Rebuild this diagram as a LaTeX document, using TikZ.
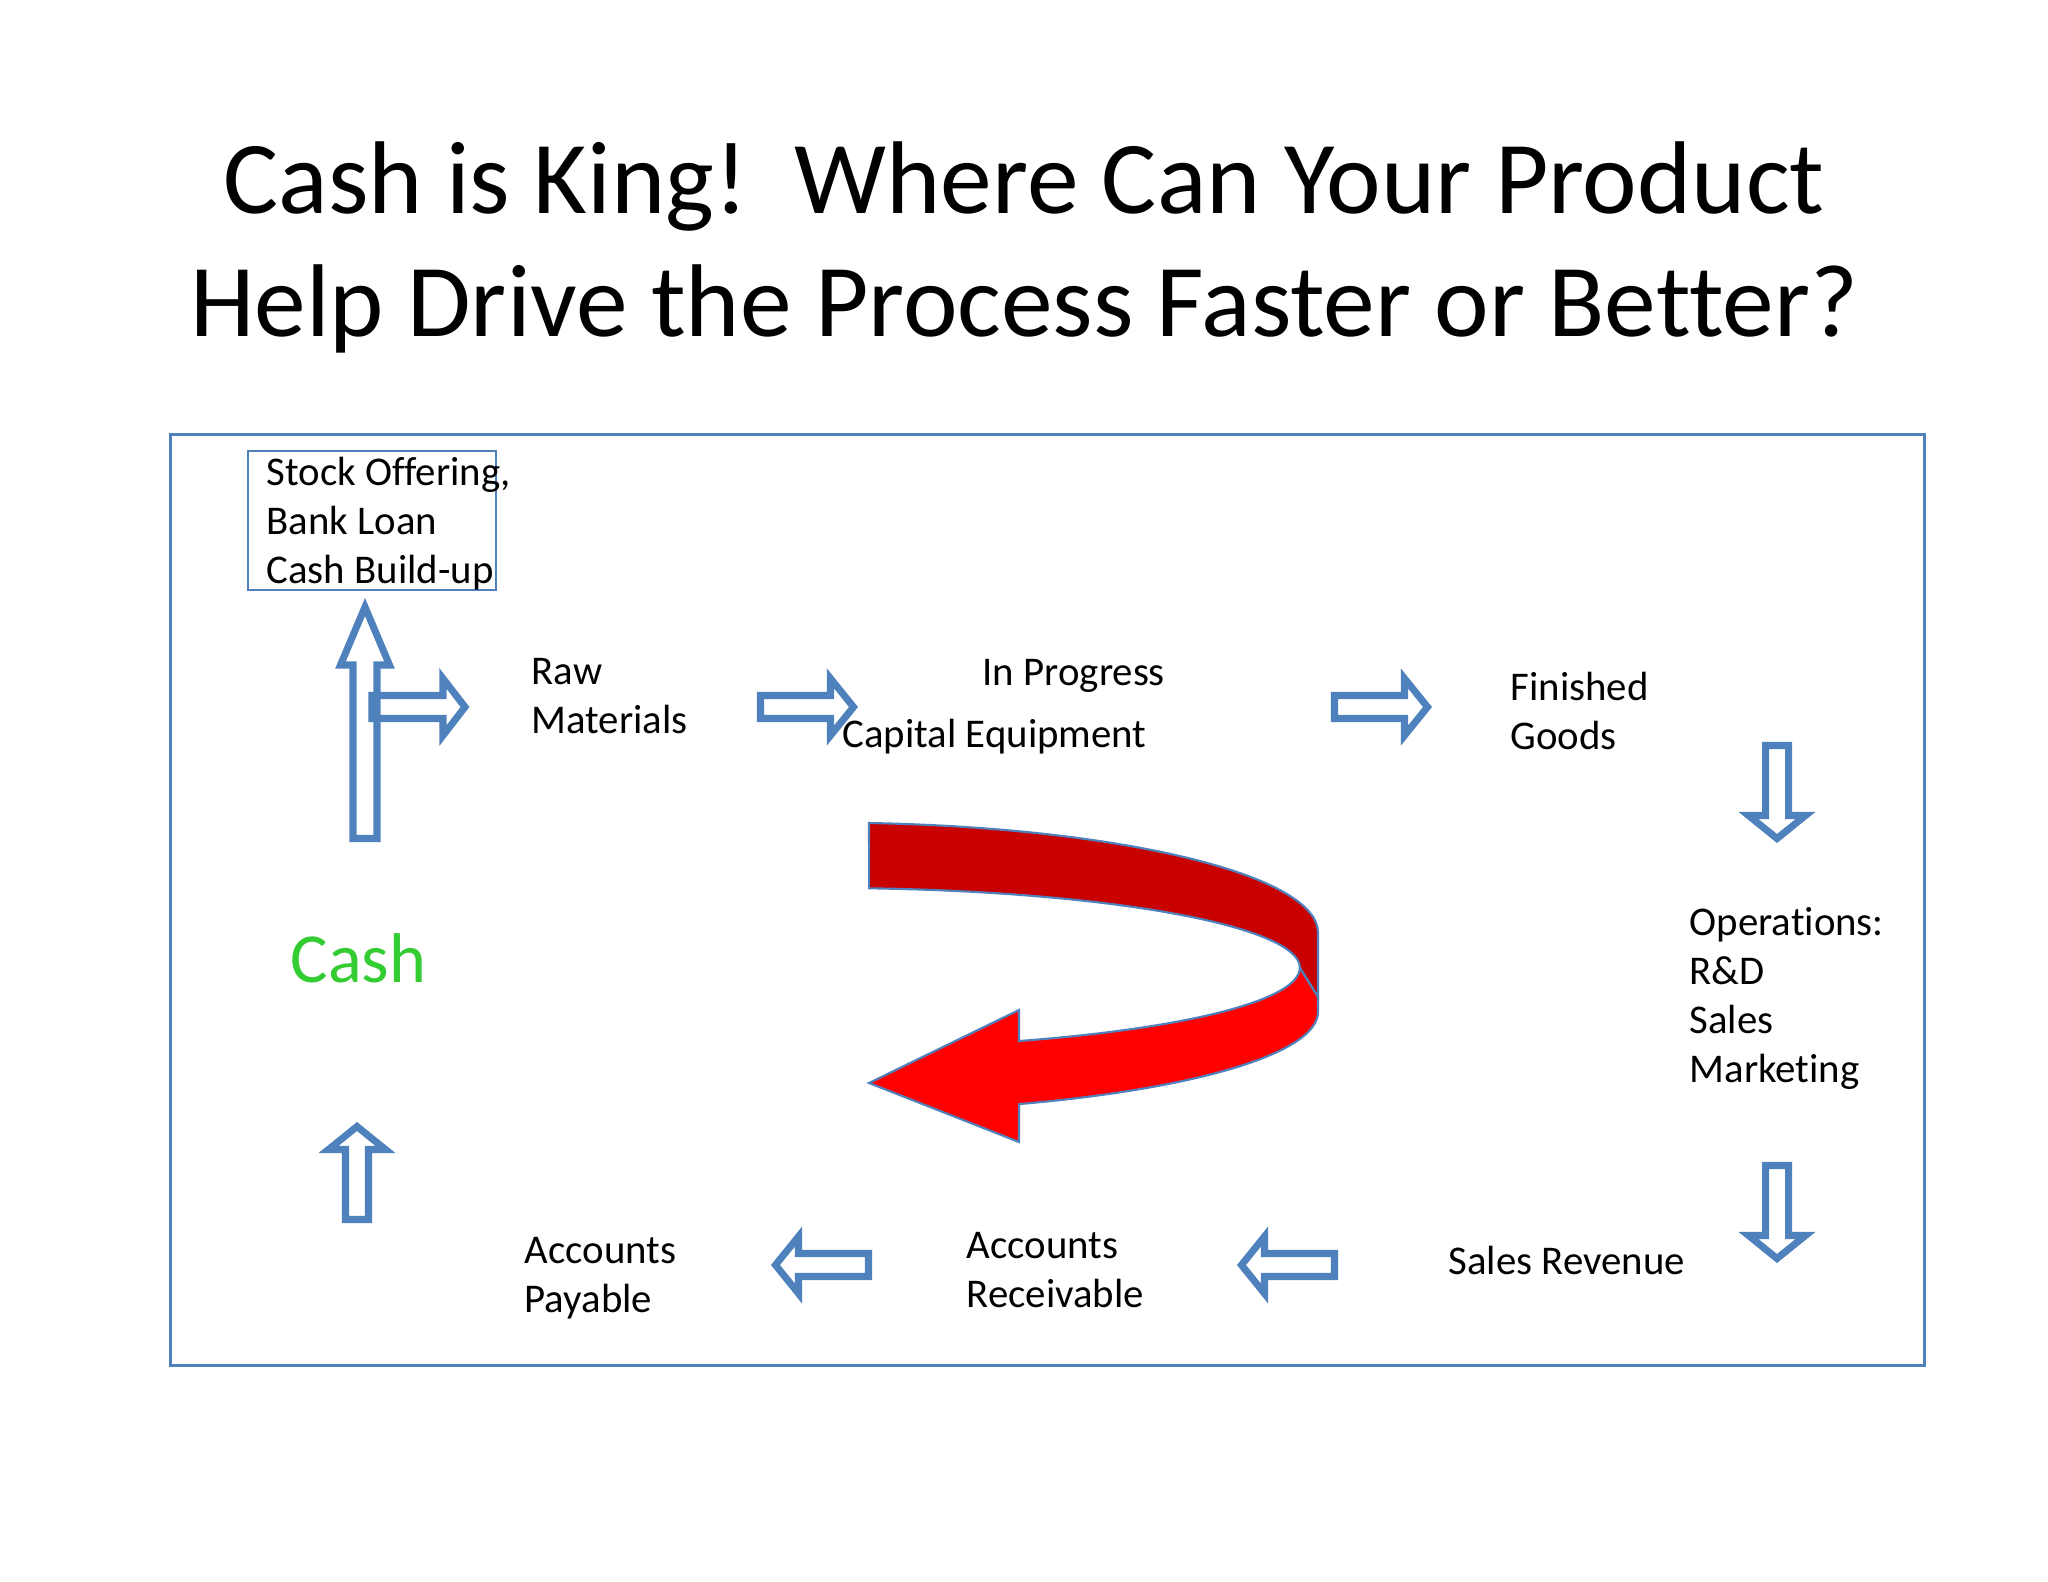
\documentclass[tikz,border=0pt]{standalone}
\usepackage{fontspec}
\setmainfont{Carlito}[Ligatures=NoCommon]
\definecolor{ablue}{RGB}{79,129,189}
\definecolor{cashgreen}{RGB}{51,204,51}
\definecolor{rback}{RGB}{200,0,0}
\definecolor{rfront}{RGB}{255,0,0}

\begin{document}
\begin{tikzpicture}[
        x=0.01cm, y={(0cm,-0.01cm)},
        txt/.style={anchor=base west, align=left, inner sep=0pt, font=\fontsize{11.6}{13.9}\selectfont},
        blk/.style={draw=ablue, line width=2pt, fill=white},
        hollow/.style={blk/.append style={fill=none}},
        frm/.style={draw=ablue, line width=0.75pt},
        rib/.style={draw=ablue, line width=0.6pt},
        pics/barrow/.style n args={4}{code={
            \path[blk] (0,-#2) -- (#1-#4,-#2) -- (#1-#4,-#3) -- (#1,0)
              -- (#1-#4,#3) -- (#1-#4,#2) -- (0,#2) -- cycle;}},
        ]
        \path[use as bounding box, fill=white] (0,0) rectangle (2048,1582);

        % base of a node with several lines = its last line
        \node (title) [anchor=base, align=center, inner sep=0pt,
          font=\fontsize{29.4}{35.2}\selectfont] at (1024,337)
          {Cash is King!\ \ Where Can Your Product\\Help Drive the Process Faster or Better?};

        \node (frame) [frm, minimum width=17.53cm, minimum height=9.30cm, inner sep=0pt] at (1047.5,900) {};
        \node (stockbox) [frm, minimum width=2.48cm, minimum height=1.39cm, inner sep=0pt] at (372,520.5) {};

        % text of the cycle
        \node (stock) [txt] at (266,583) {Stock Offering,\\Bank Loan\\Cash Build-up};
        \node (raw)   [txt] at (531,733) {Raw\\Materials};
        \node (prog)  [txt] at (982,685) {In Progress};
        \node (capeq) [txt] at (842,747) {Capital Equipment};
        \node (fin)   [txt] at (1510,749) {Finished\\Goods};
        \node (ops)   [txt] at (1689,1082) {Operations:\\R\&D\\Sales\\Marketing};
        \node (rev)   [txt] at (1448,1274) {Sales Revenue};
        \node (recv)  [txt] at (966,1307) {Accounts\\Receivable};
        \node (pay)   [txt] at (524,1312) {Accounts\\Payable};
        \node (cash)  [txt, font=\fontsize{20}{24}\selectfont, text=cashgreen] at (290,982) {Cash};

        % block arrows
        \pic[rotate=90] (up) at (365,838.5) {barrow={231.5}{12}{24.5}{58}};
        \pic[hollow] (branch) at (372,707) {barrow={93}{11.5}{28.5}{22}};
        \pic (a2) at (760.5,707) {barrow={93}{11.5}{28.5}{23}};
        \pic (a3) at (1334.5,707) {barrow={93}{11.5}{28.5}{23}};
        \pic[rotate=-90] (a4) at (1777,745.5) {barrow={93}{11.5}{28.5}{23}};
        \pic[rotate=-90] (a5) at (1777,1165.5) {barrow={93}{11.5}{28.5}{23}};
        \pic[rotate=180] (a6) at (1334.5,1265) {barrow={93}{11.5}{28.5}{23}};
        \pic[rotate=180] (a7) at (868.5,1265) {barrow={93}{11.5}{28.5}{23}};
        \pic[rotate=90] (a8) at (357,1219.5) {barrow={93}{11.5}{28.5}{23}};

        % red turn-around arrow
        \filldraw[rib, fill=rback] (869,823)
          arc[start angle=-85.2, end angle=0, x radius=490, y radius=110]
          -- (1318,997) -- (1300,968)
          arc[start angle=0, end angle=-85, x radius=472, y radius=80] -- cycle;
        \filldraw[rib, fill=rfront] (1019,1041)
          arc[start angle=66.1, end angle=0, x radius=472, y radius=80]
          -- (1318,997) -- (1318,1012)
          arc[start angle=0, end angle=67.05, x radius=490, y radius=100]
          -- (1019,1142) -- (869,1083) -- (1019,1010) -- cycle;
      \end{tikzpicture}
\end{document}
